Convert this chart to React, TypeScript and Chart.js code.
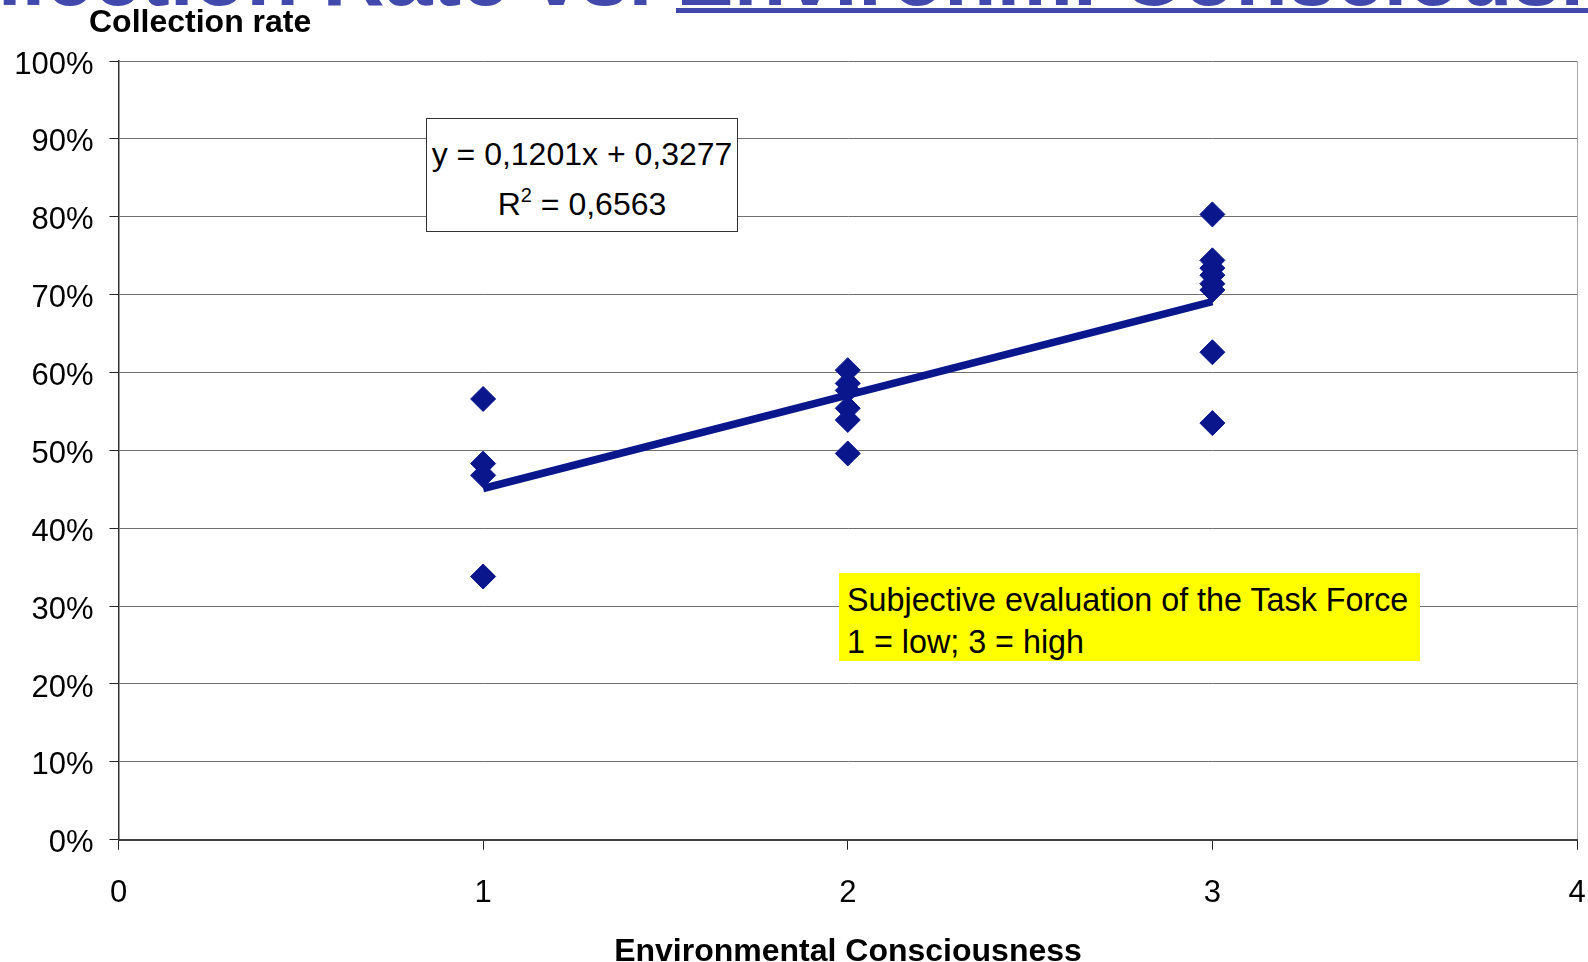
import React, { useEffect, useRef } from "react";
import { Chart, registerables } from "chart.js";

Chart.register(...registerables);

// Environmental consciousness (1 = low, 3 = high) for each observation
const consciousness = [1, 1, 1, 1, 2, 2, 2, 2, 2, 2, 3, 3, 3, 3, 3, 3, 3, 3];
// Collection rate for each observation
const collectionRate = [
  0.566, 0.483, 0.468, 0.338,
  0.603, 0.586, 0.577, 0.554, 0.539, 0.496,
  0.803, 0.744, 0.734, 0.725, 0.714, 0.706, 0.626, 0.535,
];
// Linear trend line (y = 0.1201x + 0.3277) as drawn, at its two end points
const trendX = [1, 3];
const trendY = [0.451, 0.691];

const xTickLabels = ["0", "1", "2", "3", "4"];
const yTickLabels = ["0%", "10%", "20%", "30%", "40%", "50%", "60%", "70%", "80%", "90%", "100%"];

const titleText = "Collection Rate vs. ";
const titleLinked = "Environm. Consciousness";
const yAxisTitle = "Collection rate";
const xAxisTitle = "Environmental Consciousness";
const equationLine = "y = 0,1201x + 0,3277";
const rSquaredValue = " = 0,6563";
const noteLines = ["Subjective evaluation of the Task Force", "1 = low; 3 = high"];

const NAVY = "#0a168c";
const FONT = "'Liberation Sans', Arial, Helvetica, sans-serif";

export default function App() {
  const canvasRef = useRef<HTMLCanvasElement | null>(null);

  useEffect(() => {
    const canvas = canvasRef.current;
    if (!canvas) return;
    const chart = new Chart(canvas, {
      type: "scatter",
      data: {
        datasets: [
          {
            label: "Collection rate",
            data: consciousness.map((x, i) => ({ x, y: collectionRate[i] })),
            pointStyle: "rectRot",
            pointRadius: 12.5,
            pointBorderWidth: 1,
            backgroundColor: NAVY,
            borderColor: NAVY,
            showLine: false,
          },
          {
            label: "Trend",
            data: trendX.map((x, i) => ({ x, y: trendY[i] })),
            showLine: true,
            pointRadius: 0,
            borderColor: NAVY,
            borderWidth: 7.5,
            borderCapStyle: "butt",
          },
        ],
      },
      options: {
        responsive: false,
        devicePixelRatio: 1,
        animation: false,
        layout: { autoPadding: false, padding: { top: 61, right: 11, left: 0, bottom: 0 } },
        plugins: {
          legend: { display: false },
          tooltip: { enabled: false },
          title: { display: false },
        },
        scales: {
          x: {
            type: "linear",
            min: 0,
            max: 4,
            afterFit: (s: any) => {
              s.height = 122.3;
              s.paddingRight = 0;
              s.paddingLeft = 0;
            },
            ticks: {
              stepSize: 1,
              padding: 25,
              color: "#000",
              font: { family: FONT, size: 31 },
              callback: (v: any) => xTickLabels[Math.round(Number(v))] ?? "",
              maxRotation: 0,
            },
            grid: {
              color: (ctx: any) => (ctx.tick && ctx.tick.value === 4 ? "#a8a8a8" : "rgba(0,0,0,0)"),
              tickColor: "#222",
              tickLength: 10,
              drawOnChartArea: true,
            },
            border: { display: true, color: "#404040", width: 2 },
          },
          y: {
            type: "linear",
            min: 0,
            max: 1,
            afterFit: (s: any) => {
              s.width = 118.5;
              s.paddingTop = 0;
              s.paddingBottom = 0;
            },
            ticks: {
              stepSize: 0.1,
              padding: 16,
              labelOffset: 4,
              color: "#000",
              font: { family: FONT, size: 31 },
              callback: (v: any) => yTickLabels[Math.round(Number(v) * 10)] ?? "",
            },
            grid: {
              color: "#707070",
              tickColor: "#222",
              tickLength: 9,
            },
            border: { display: true, color: "#333", width: 1.5 },
          },
        },
      },
    });
    return () => chart.destroy();
  }, []);

  return (
    <div
      style={{
        position: "fixed",
        left: 0,
        top: 0,
        width: 1588,
        height: 962,
        background: "#fff",
        overflow: "hidden",
        fontFamily: FONT,
      }}
    >
      <canvas ref={canvasRef} width={1588} height={962} style={{ position: "absolute", left: 0, top: 0 }} />

      {/* slide title, cut off at the top */}
      <div
        style={{
          position: "absolute",
          left: -117,
          top: -68,
          fontSize: 86,
          lineHeight: "86px",
          fontWeight: "bold",
          color: "#4149ad",
          whiteSpace: "nowrap",
        }}
      >
        {titleText}
        {titleLinked}
      </div>
      <div style={{ position: "absolute", left: 676, top: 8, width: 912, height: 5, background: "#4149ad" }} />

      {/* y axis title */}
      <div
        style={{
          position: "absolute",
          left: 89,
          top: 6,
          fontSize: 32,
          lineHeight: "31px",
          fontWeight: "bold",
          color: "#000",
          whiteSpace: "nowrap",
        }}
      >
        {yAxisTitle}
      </div>

      {/* x axis title */}
      <div
        style={{
          position: "absolute",
          left: 348,
          width: 1000,
          top: 934,
          textAlign: "center",
          fontSize: 32,
          lineHeight: "32px",
          fontWeight: "bold",
          color: "#000",
          whiteSpace: "nowrap",
        }}
      >
        {xAxisTitle}
      </div>

      {/* regression equation box */}
      <div
        style={{
          position: "absolute",
          left: 426,
          top: 118,
          width: 310,
          height: 112,
          border: "1px solid #333",
          background: "#fff",
          boxSizing: "content-box",
          textAlign: "center",
          fontSize: 32,
          color: "#000",
          whiteSpace: "nowrap",
        }}
      >
        <div style={{ lineHeight: "48px", marginTop: 11 }}>{equationLine}</div>
        <div style={{ lineHeight: "52px" }}>
          R
          <span style={{ fontSize: 20, position: "relative", top: -13, lineHeight: 0 }}>2</span>
          {rSquaredValue}
        </div>
      </div>

      {/* yellow note */}
      <div
        style={{
          position: "absolute",
          left: 839,
          top: 573,
          width: 581,
          height: 88,
          background: "#ffff00",
          fontSize: 32.3,
          color: "#000",
          whiteSpace: "nowrap",
          boxSizing: "border-box",
          paddingLeft: 8,
          paddingTop: 7,
        }}
      >
        {noteLines.map((t) => (
          <div key={t} style={{ lineHeight: "41.5px" }}>
            {t}
          </div>
        ))}
      </div>
    </div>
  );
}
